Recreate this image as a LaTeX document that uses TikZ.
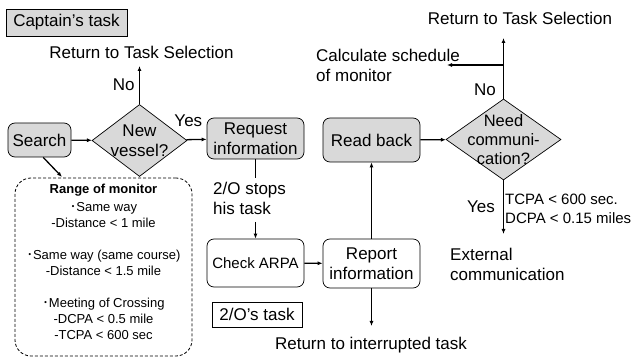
\documentclass[tikz,border=0pt]{standalone}
\usepackage{fontspec}
\setmainfont{Liberation Sans}
\newfontfamily\cjk{Noto Sans CJK JP}
\usetikzlibrary{shapes.geometric,arrows.meta}
\definecolor{boxGray}{RGB}{217,217,217}
\newcommand{\dotmark}{{\cjk ･}}

\begin{document}
\begin{tikzpicture}[x=1pt, y=-1pt,
    every node/.style={font=\fontsize{17}{20}\selectfont},
    task/.style={draw, line width=0.7pt, rounded corners=7pt, inner sep=0pt, align=center},
    grey/.style={fill=boxGray},
    decide/.style={draw, diamond, fill=boxGray, line width=0.7pt, inner sep=0pt},
    tag/.style={draw, line width=0.7pt, inner sep=0pt},
    note/.style={anchor=west, align=left, inner sep=0pt},
    arr/.style={line width=1.3pt, -{Latex[length=5pt,width=4pt]}},
    plain/.style={line width=1.3pt}]
        \useasboundingbox (0,0) rectangle (635,358);
        % captain side
        \node[tag, grey, minimum width=121pt, minimum height=27pt] (captain) at (66.5,22.5) {Captain's task};
        \node[task, grey, minimum width=63pt, minimum height=34pt] (search) at (39.5,140) {Search};
        \node[decide, minimum width=95pt, minimum height=72pt,
              label={[align=center]center:New\\vessel?}] (newv) at (139.5,140.5) {};
        \node[task, grey, minimum width=97pt, minimum height=41pt] (request) at (255.5,138.5) {Request\\information};
        \node (ret1) at (141.5,52) {Return to Task Selection};
        \coordinate (up1) at (139.5,66);
        % range of monitor box (outline and text kept apart)
        \node[draw, densely dashed, line width=0.8pt, rounded corners=16pt, minimum width=177pt, minimum height=178pt,
              inner sep=0pt] (mon) at (103.5,267) {};
        \node[align=center, inner sep=0pt, font=\fontsize{13}{16.3}\selectfont] (montext) at (103.5,262)
             {\textbf{Range of monitor}\\[1.5pt]
              \dotmark Same way\\
              -Distance < 1 mile\\[15.5pt]
              \dotmark Same way (same course)\\
              -Distance < 1.5 mile\\[15.5pt]
              \dotmark Meeting of Crossing\\
              -DCPA < 0.5 mile\\
              -TCPA < 600 sec};
        \coordinate (monin) at (62,177);
        % 2/O side
        \node[note] (stops) at (213,198) {2/O stops\\his task};
        \coordinate (stopa) at (255.5,178);
        \coordinate (stopb) at (255.5,222);
        \node[task, minimum width=97pt, minimum height=48pt, font=\fontsize{15}{18}\selectfont] (check) at (255.5,263) {Check ARPA};
        \node[tag, minimum width=90pt, minimum height=25pt] (otask) at (257,314.5) {2/O's task};
        \node[task, minimum width=97pt, minimum height=49pt] (report) at (371.5,263.5) {Report\\information};
        \node (interr) at (371,345) {Return to interrupted task};
        \coordinate (down1) at (371.5,326);
        \node[task, grey, minimum width=97pt, minimum height=44pt] (readback) at (371.5,140) {Read back};
        \node[decide, minimum width=115pt, minimum height=81pt,
              label={[align=center, font=\fontsize{16.5}{19}\selectfont]center:Need\\communi-\\cation?}] (needc) at (503.5,139.5) {};
        \node (ret2) at (520,18) {Return to Task Selection};
        \coordinate (up2) at (503.5,38);
        \coordinate (fork) at (503.5,65);
        \coordinate (left2) at (447,65);
        \node[note] (calc) at (316,65) {Calculate schedule\\of monitor};
        \coordinate (down2) at (503.5,234);
        \node[note, font=\fontsize{15}{19}\selectfont] (crit) at (505,208.5) {TCPA < 600 sec.\\DCPA < 0.15 miles};
        \node[note] (ext) at (450,264) {External\\communication};

        % connectors
        \draw[arr] (search) -- (newv);
        \draw[arr] (newv) -- (request) node[pos=0.1, above=9pt] {Yes};
        \draw[arr] (newv.north) -- (up1) node[pos=0.5, left=1pt] {No};
        \draw[arr] (search.-78) -- (monin);
        \draw[plain] (request.south) -- (stopa);
        \draw[arr] (stopb) -- (check.north);
        \draw[arr] (check) -- (report);
        \draw[arr] (report) -- (readback);
        \draw[arr] (report.south) -- (down1);
        \draw[arr] (readback) -- (needc);
        \draw[arr] (needc.north) -- (up2);
        \draw[arr] (fork) -- (left2);
        \node at (485,90) {No};
        \draw[arr] (needc.south) -- (down2);
        \node at (481,207) {Yes};
\end{tikzpicture}
\end{document}
